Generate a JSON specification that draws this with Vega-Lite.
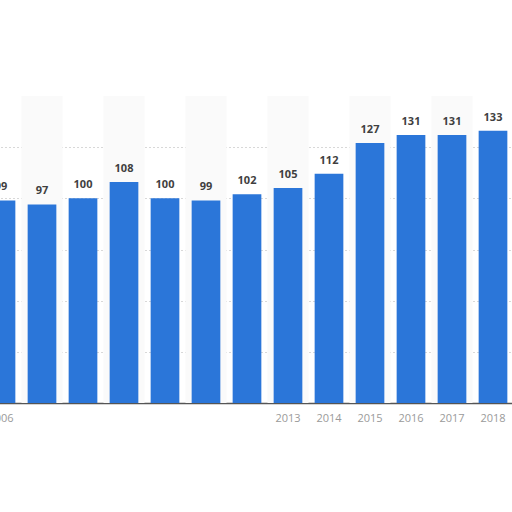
{
  "$schema": "https://vega.github.io/schema/vega-lite/v6.json",
  "width": 512,
  "height": 307,
  "autosize": "none",
  "padding": {"top": 96, "left": 0, "right": 0, "bottom": 109},
  "background": "white",
  "data": {
    "values": [
      {"year": "2006", "value": 99},
      {"year": "2007", "value": 97},
      {"year": "2008", "value": 100},
      {"year": "2009", "value": 108},
      {"year": "2010", "value": 100},
      {"year": "2011", "value": 99},
      {"year": "2012", "value": 102},
      {"year": "2013", "value": 105},
      {"year": "2014", "value": 112},
      {"year": "2015", "value": 127},
      {"year": "2016", "value": 131},
      {"year": "2017", "value": 131},
      {"year": "2018", "value": 133}
    ]
  },
  "encoding": {
    "x": {
      "field": "year",
      "type": "ordinal",
      "scale": {"range": [-19.5, 513.5], "paddingInner": 0.3, "paddingOuter": 0.15},
      "axis": {
        "title": null,
        "domainColor": "#555555",
        "domainWidth": 1.5,
        "ticks": false,
        "labelAngle": 0,
        "labelColor": "#9a9a9a",
        "labelFont": "Open Sans",
        "labelFontSize": 11,
        "labelPadding": 9,
        "labelExpr": "(datum.value > '2006' && datum.value < '2013') ? '' : datum.label"
      }
    }
  },
  "layer": [
    {
      "mark": {"type": "bar", "width": {"band": 1.4286}, "color": "#fafafa"},
      "encoding": {
        "y": {"datum": 150, "type": "quantitative"},
        "opacity": {"condition": {"test": "datum.year % 2 == 1", "value": 1}, "value": 0}
      }
    },
    {
      "mark": {"type": "bar", "color": "#2b76d9"},
      "encoding": {
        "y": {
          "field": "value",
          "type": "quantitative",
          "scale": {"domain": [0, 150], "nice": false},
          "axis": {
            "title": null,
            "labels": false,
            "ticks": false,
            "domain": false,
            "grid": true,
            "values": [25, 50, 75, 100, 125],
            "gridColor": "#d8d8d8",
            "gridDash": [2, 2],
            "gridWidth": 1
          }
        }
      }
    },
    {
      "mark": {
        "type": "text",
        "baseline": "bottom",
        "dy": -8,
        "font": "Open Sans",
        "fontSize": 11,
        "fontWeight": "bold",
        "color": "#3f3f3f"
      },
      "encoding": {
        "y": {"field": "value", "type": "quantitative"},
        "text": {"field": "value", "type": "quantitative"}
      }
    }
  ],
  "config": {"view": {"stroke": null}}
}
